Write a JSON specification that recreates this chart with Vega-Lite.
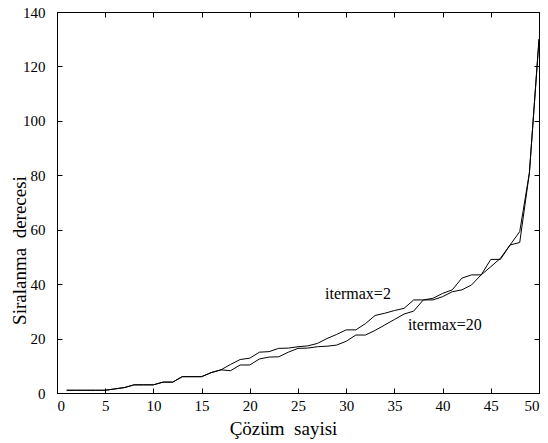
{
  "$schema": "https://vega.github.io/schema/vega-lite/v6.json",
  "width": 482,
  "height": 381,
  "autosize": "none",
  "padding": {"left": 57, "top": 12, "right": 9, "bottom": 50},
  "background": "white",
  "config": {
    "font": "Liberation Serif, Times New Roman, serif",
    "view": {"stroke": "black", "strokeWidth": 1},
    "axis": {
      "grid": false,
      "domainColor": "black",
      "tickColor": "black",
      "labelColor": "black",
      "titleColor": "black",
      "labelFont": "Liberation Serif, Times New Roman, serif",
      "titleFont": "Liberation Serif, Times New Roman, serif",
      "labelFontSize": 15,
      "titleFontSize": 19,
      "titleFontWeight": "normal",
      "tickSize": -5
    }
  },
  "datasets": {
    "curves": [
      {"x": 1, "series": "itermax=2", "y": 1}, {"x": 2, "series": "itermax=2", "y": 1}, {"x": 3, "series": "itermax=2", "y": 1}, {"x": 4, "series": "itermax=2", "y": 1}, {"x": 5, "series": "itermax=2", "y": 1},
      {"x": 6, "series": "itermax=2", "y": 1.5}, {"x": 7, "series": "itermax=2", "y": 2}, {"x": 8, "series": "itermax=2", "y": 3}, {"x": 9, "series": "itermax=2", "y": 3}, {"x": 10, "series": "itermax=2", "y": 3},
      {"x": 11, "series": "itermax=2", "y": 4}, {"x": 12, "series": "itermax=2", "y": 4}, {"x": 13, "series": "itermax=2", "y": 6}, {"x": 14, "series": "itermax=2", "y": 6}, {"x": 15, "series": "itermax=2", "y": 6},
      {"x": 16, "series": "itermax=2", "y": 7.5}, {"x": 17, "series": "itermax=2", "y": 8.5}, {"x": 18, "series": "itermax=2", "y": 10.5}, {"x": 19, "series": "itermax=2", "y": 12.3}, {"x": 20, "series": "itermax=2", "y": 12.8},
      {"x": 21, "series": "itermax=2", "y": 15}, {"x": 22, "series": "itermax=2", "y": 15.2}, {"x": 23, "series": "itermax=2", "y": 16.4}, {"x": 24, "series": "itermax=2", "y": 16.5}, {"x": 25, "series": "itermax=2", "y": 17},
      {"x": 26, "series": "itermax=2", "y": 17.3}, {"x": 27, "series": "itermax=2", "y": 18.2}, {"x": 28, "series": "itermax=2", "y": 20}, {"x": 29, "series": "itermax=2", "y": 21.5}, {"x": 30, "series": "itermax=2", "y": 23.2},
      {"x": 31, "series": "itermax=2", "y": 23.2}, {"x": 32, "series": "itermax=2", "y": 25.5}, {"x": 33, "series": "itermax=2", "y": 28.5}, {"x": 34, "series": "itermax=2", "y": 29.3}, {"x": 35, "series": "itermax=2", "y": 30.3},
      {"x": 36, "series": "itermax=2", "y": 31.1}, {"x": 37, "series": "itermax=2", "y": 34.2}, {"x": 38, "series": "itermax=2", "y": 34.2}, {"x": 39, "series": "itermax=2", "y": 34.8}, {"x": 40, "series": "itermax=2", "y": 36.6},
      {"x": 41, "series": "itermax=2", "y": 37.9}, {"x": 42, "series": "itermax=2", "y": 42.2}, {"x": 43, "series": "itermax=2", "y": 43.4}, {"x": 44, "series": "itermax=2", "y": 43.4}, {"x": 45, "series": "itermax=2", "y": 49.1},
      {"x": 46, "series": "itermax=2", "y": 49.1}, {"x": 47, "series": "itermax=2", "y": 54.4}, {"x": 48, "series": "itermax=2", "y": 55.3}, {"x": 49, "series": "itermax=2", "y": 80.8}, {"x": 50, "series": "itermax=2", "y": 130},
      {"x": 1, "series": "itermax=20", "y": 1}, {"x": 2, "series": "itermax=20", "y": 1}, {"x": 3, "series": "itermax=20", "y": 1}, {"x": 4, "series": "itermax=20", "y": 1}, {"x": 5, "series": "itermax=20", "y": 1},
      {"x": 6, "series": "itermax=20", "y": 1.5}, {"x": 7, "series": "itermax=20", "y": 2}, {"x": 8, "series": "itermax=20", "y": 3}, {"x": 9, "series": "itermax=20", "y": 3}, {"x": 10, "series": "itermax=20", "y": 3},
      {"x": 11, "series": "itermax=20", "y": 4}, {"x": 12, "series": "itermax=20", "y": 4}, {"x": 13, "series": "itermax=20", "y": 6}, {"x": 14, "series": "itermax=20", "y": 6}, {"x": 15, "series": "itermax=20", "y": 6},
      {"x": 16, "series": "itermax=20", "y": 7.5}, {"x": 17, "series": "itermax=20", "y": 8.5}, {"x": 18, "series": "itermax=20", "y": 8.2}, {"x": 19, "series": "itermax=20", "y": 10.3}, {"x": 20, "series": "itermax=20", "y": 10.3},
      {"x": 21, "series": "itermax=20", "y": 12.5}, {"x": 22, "series": "itermax=20", "y": 13.2}, {"x": 23, "series": "itermax=20", "y": 13.3}, {"x": 24, "series": "itermax=20", "y": 15}, {"x": 25, "series": "itermax=20", "y": 16.4},
      {"x": 26, "series": "itermax=20", "y": 16.5}, {"x": 27, "series": "itermax=20", "y": 17}, {"x": 28, "series": "itermax=20", "y": 17.2}, {"x": 29, "series": "itermax=20", "y": 17.6}, {"x": 30, "series": "itermax=20", "y": 19},
      {"x": 31, "series": "itermax=20", "y": 21.3}, {"x": 32, "series": "itermax=20", "y": 21.3}, {"x": 33, "series": "itermax=20", "y": 23}, {"x": 34, "series": "itermax=20", "y": 25}, {"x": 35, "series": "itermax=20", "y": 27},
      {"x": 36, "series": "itermax=20", "y": 29}, {"x": 37, "series": "itermax=20", "y": 30.1}, {"x": 38, "series": "itermax=20", "y": 34.2}, {"x": 39, "series": "itermax=20", "y": 34.2}, {"x": 40, "series": "itermax=20", "y": 35.4},
      {"x": 41, "series": "itermax=20", "y": 37.2}, {"x": 42, "series": "itermax=20", "y": 37.9}, {"x": 43, "series": "itermax=20", "y": 39.7}, {"x": 44, "series": "itermax=20", "y": 43.4}, {"x": 45, "series": "itermax=20", "y": 46.4},
      {"x": 46, "series": "itermax=20", "y": 49.5}, {"x": 47, "series": "itermax=20", "y": 54.4}, {"x": 48, "series": "itermax=20", "y": 59.3}, {"x": 49, "series": "itermax=20", "y": 80.8}, {"x": 50, "series": "itermax=20", "y": 130}
    ],
    "labels": [
      {"x": 27.8, "y": 34.4, "label": "itermax=2"},
      {"x": 36.4, "y": 23.2, "label": "itermax=20"}
    ]
  },
  "layer": [
    {
      "data": {"name": "curves"},
      "mark": {"type": "line", "color": "black", "strokeWidth": 1},
      "encoding": {
        "x": {"field": "x", "type": "quantitative", "scale": {"domain": [0, 50], "nice": false, "zero": false},
              "axis": {"values": [0, 5, 10, 15, 20, 25, 30, 35, 40, 45, 50], "title": "Çözüm\u00a0\u00a0sayisi", "labelPadding": 10, "labelBaseline": "top", "titleX": 226, "titleY": 41, "titleBaseline": "alphabetic", "titleAlign": "center"}},
        "y": {"field": "y", "type": "quantitative", "scale": {"domain": [0, 140], "nice": false},
              "axis": {"values": [0, 20, 40, 60, 80, 100, 120, 140], "title": "Siralanma\u00a0\u00a0derecesi", "labelPadding": 17, "titleX": -32, "titleY": 238, "titleAngle": -90, "titleBaseline": "alphabetic", "titleAlign": "center"}},
        "detail": {"field": "series", "type": "nominal"}
      }
    },
    {
      "data": {"name": "curves"},
      "mark": {"type": "line", "opacity": 0},
      "encoding": {
        "x": {"field": "x", "type": "quantitative", "scale": {"domain": [0, 50], "nice": false, "zero": false},
              "axis": {"orient": "top", "values": [0, 5, 10, 15, 20, 25, 30, 35, 40, 45, 50], "labels": false, "title": null}},
        "y": {"field": "y", "type": "quantitative", "scale": {"domain": [0, 140], "nice": false},
              "axis": {"orient": "right", "values": [0, 20, 40, 60, 80, 100, 120, 140], "labels": false, "title": null}},
        "detail": {"field": "series", "type": "nominal"}
      }
    },
    {
      "data": {"name": "labels"},
      "mark": {"type": "text", "align": "left", "baseline": "alphabetic", "font": "Liberation Serif, Times New Roman, serif", "fontSize": 16, "color": "black"},
      "encoding": {
        "x": {"field": "x", "type": "quantitative", "axis": null},
        "y": {"field": "y", "type": "quantitative", "axis": null},
        "text": {"field": "label"}
      }
    }
  ],
  "resolve": {"axis": {"x": "independent", "y": "independent"}}
}
